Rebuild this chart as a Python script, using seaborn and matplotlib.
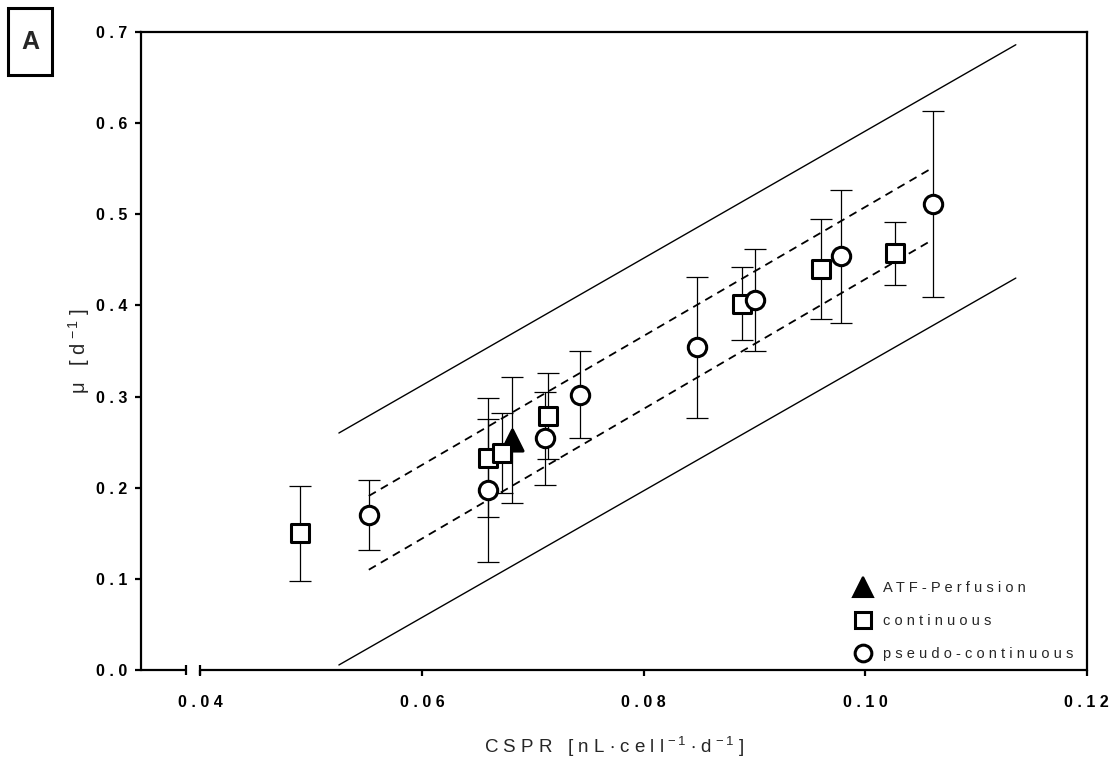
import matplotlib
matplotlib.use("Agg")
import matplotlib.pyplot as plt
from matplotlib.lines import Line2D
from matplotlib.patches import Rectangle
import numpy as np
import pandas as pd
import seaborn as sns

# ---- data -------------------------------------------------------------
# continuous cultures (open squares)
cont_cspr = [0.0490, 0.0660, 0.0672, 0.0714, 0.0889, 0.0960, 0.1027]
cont_mu = [0.150, 0.233, 0.238, 0.279, 0.402, 0.440, 0.457]
cont_sd = [0.052, 0.065, 0.044, 0.047, 0.040, 0.055, 0.035]

# pseudo-continuous cultures (open circles)
pseudo_cspr = [0.0552, 0.0660, 0.0711, 0.0743, 0.0848, 0.0901, 0.0978, 0.1061]
pseudo_mu = [0.170, 0.197, 0.254, 0.302, 0.354, 0.406, 0.454, 0.511]
pseudo_sd = [0.038, 0.078, 0.051, 0.048, 0.077, 0.056, 0.073, 0.102]

# ATF perfusion (filled triangle)
atf_cspr = [0.0681]
atf_mu = [0.252]
atf_sd = [0.069]

# regression bands
pred_x = [0.0525, 0.1136]
pred_upper = [0.260, 0.686]
pred_lower = [0.0055, 0.430]
conf_x = [0.0552, 0.1058]
conf_upper = [0.191, 0.549]
conf_lower = [0.110, 0.470]

series_names = ["ATF-Perfusion", "continuous", "pseudo-continuous"]
x_ticks = [0.04, 0.06, 0.08, 0.10, 0.12]
x_tick_labels = ["0 . 0 4", "0 . 0 6", "0 . 0 8", "0 . 1 0", "0 . 1 2"]
y_ticks = [0.0, 0.1, 0.2, 0.3, 0.4, 0.5, 0.6, 0.7]
y_tick_labels = ["0 . 0", "0 . 1", "0 . 2", "0 . 3", "0 . 4", "0 . 5", "0 . 6", "0 . 7"]


def spaced(s):
    return " ".join(s)


df = pd.concat([
    pd.DataFrame({"cspr": atf_cspr, "mu": atf_mu, "sd": atf_sd, "mode": series_names[0]}),
    pd.DataFrame({"cspr": cont_cspr, "mu": cont_mu, "sd": cont_sd, "mode": series_names[1]}),
    pd.DataFrame({"cspr": pseudo_cspr, "mu": pseudo_mu, "sd": pseudo_sd, "mode": series_names[2]}),
], ignore_index=True)

# ---- style ------------------------------------------------------------
sns.set_theme(style="white")
plt.rcParams["font.family"] = ["Liberation Sans", "DejaVu Sans"]
plt.rcParams["mathtext.fontset"] = "custom"
plt.rcParams["mathtext.rm"] = "Liberation Sans"
plt.rcParams["mathtext.it"] = "Liberation Sans"
plt.rcParams["mathtext.default"] = "regular"

fig = plt.figure(figsize=(11.13, 7.58), dpi=100)
ax = fig.add_axes([0.1267, 0.1161, 0.8497, 0.8417])

x_min, x_max = 0.03464, 0.12
ax.set_xlim(x_min, x_max)
ax.set_ylim(0.0, 0.7)

# regression lines
ax.plot(pred_x, pred_upper, color="black", lw=1.0, zorder=1)
ax.plot(pred_x, pred_lower, color="black", lw=1.0, zorder=1)
ax.plot(conf_x, conf_upper, color="black", lw=1.3, ls=(0, (4.5, 3.2)), zorder=1)
ax.plot(conf_x, conf_lower, color="black", lw=1.3, ls=(0, (4.5, 3.2)), zorder=1)

# error bars
ax.errorbar(df["cspr"], df["mu"], yerr=df["sd"], fmt="none", ecolor="black",
            elinewidth=0.9, capsize=8, capthick=0.9, zorder=2)

# markers
marker_map = {series_names[0]: "^", series_names[1]: "s", series_names[2]: "o"}
face_map = {series_names[0]: "black", series_names[1]: "white", series_names[2]: "white"}
size_map = {series_names[0]: 230, series_names[1]: 155, series_names[2]: 175}
for name in series_names:
    sub = df[df["mode"] == name]
    sns.scatterplot(data=sub, x="cspr", y="mu", marker=marker_map[name],
                    color=face_map[name], edgecolor="black", linewidth=2.2,
                    s=size_map[name], ax=ax, zorder=3, legend=False)

# ---- axes -------------------------------------------------------------
for side in ["left", "top", "right"]:
    ax.spines[side].set_visible(True)
    ax.spines[side].set_linewidth(1.6)
    ax.spines[side].set_color("black")
ax.spines["bottom"].set_visible(False)

# bottom axis with a break just left of 0.04
tr = ax.get_xaxis_transform()
brk_l, brk_r = 0.0387, 0.0400
cap = 0.0075
seg_kw = dict(color="black", lw=1.6, transform=tr, clip_on=False, zorder=5,
              solid_capstyle="butt")
ax.plot([x_min, brk_l], [0, 0], **seg_kw)
ax.plot([brk_r, x_max], [0, 0], **seg_kw)
ax.plot([brk_l, brk_l], [-cap, cap], **seg_kw)
ax.plot([brk_r, brk_r], [-cap, cap], **seg_kw)

ax.set_xticks(x_ticks)
ax.set_xticklabels(x_tick_labels, fontweight="bold", fontsize=11.5)
ax.set_yticks(y_ticks)
ax.set_yticklabels(y_tick_labels, fontweight="bold", fontsize=11.5)
ax.tick_params(axis="x", direction="out", length=4, width=1.6, pad=14, colors="black", bottom=True)
ax.tick_params(axis="y", direction="out", length=4, width=1.6, pad=6, colors="black", left=True)

ax.set_xlabel("C S P R   [ n L $\\cdot$ c e l l$^{\\,-1}$ $\\cdot$ d$^{\\,-1}$ ]",
              fontsize=13.5, labelpad=18)
ax.set_ylabel("μ   [ d$^{\\,-1}$ ]", fontsize=14.5, labelpad=3)

# legend
handles = [
    Line2D([], [], ls="none", marker="^", markersize=15, markerfacecolor="black",
           markeredgecolor="black", markeredgewidth=1.5),
    Line2D([], [], ls="none", marker="s", markersize=11, markerfacecolor="white",
           markeredgecolor="black", markeredgewidth=2.2),
    Line2D([], [], ls="none", marker="o", markersize=12, markerfacecolor="white",
           markeredgecolor="black", markeredgewidth=2.2),
]
ax.legend(handles, [spaced(n) for n in series_names], loc="lower left",
          bbox_to_anchor=(0.74, -0.007), frameon=False, fontsize=10.5,
          handlelength=1.2, handletextpad=0.8, labelspacing=1.3)

# panel letter in a box
fig.patches.append(Rectangle((8 / 1113, 1 - 75 / 758), 44 / 1113, 67 / 758,
                             transform=fig.transFigure, facecolor="white",
                             edgecolor="black", linewidth=2.2))
fig.text(30 / 1113, 1 - 42 / 758, "A", fontsize=18, fontweight="bold",
         ha="center", va="center")

fig.savefig("out.png", dpi=100)
